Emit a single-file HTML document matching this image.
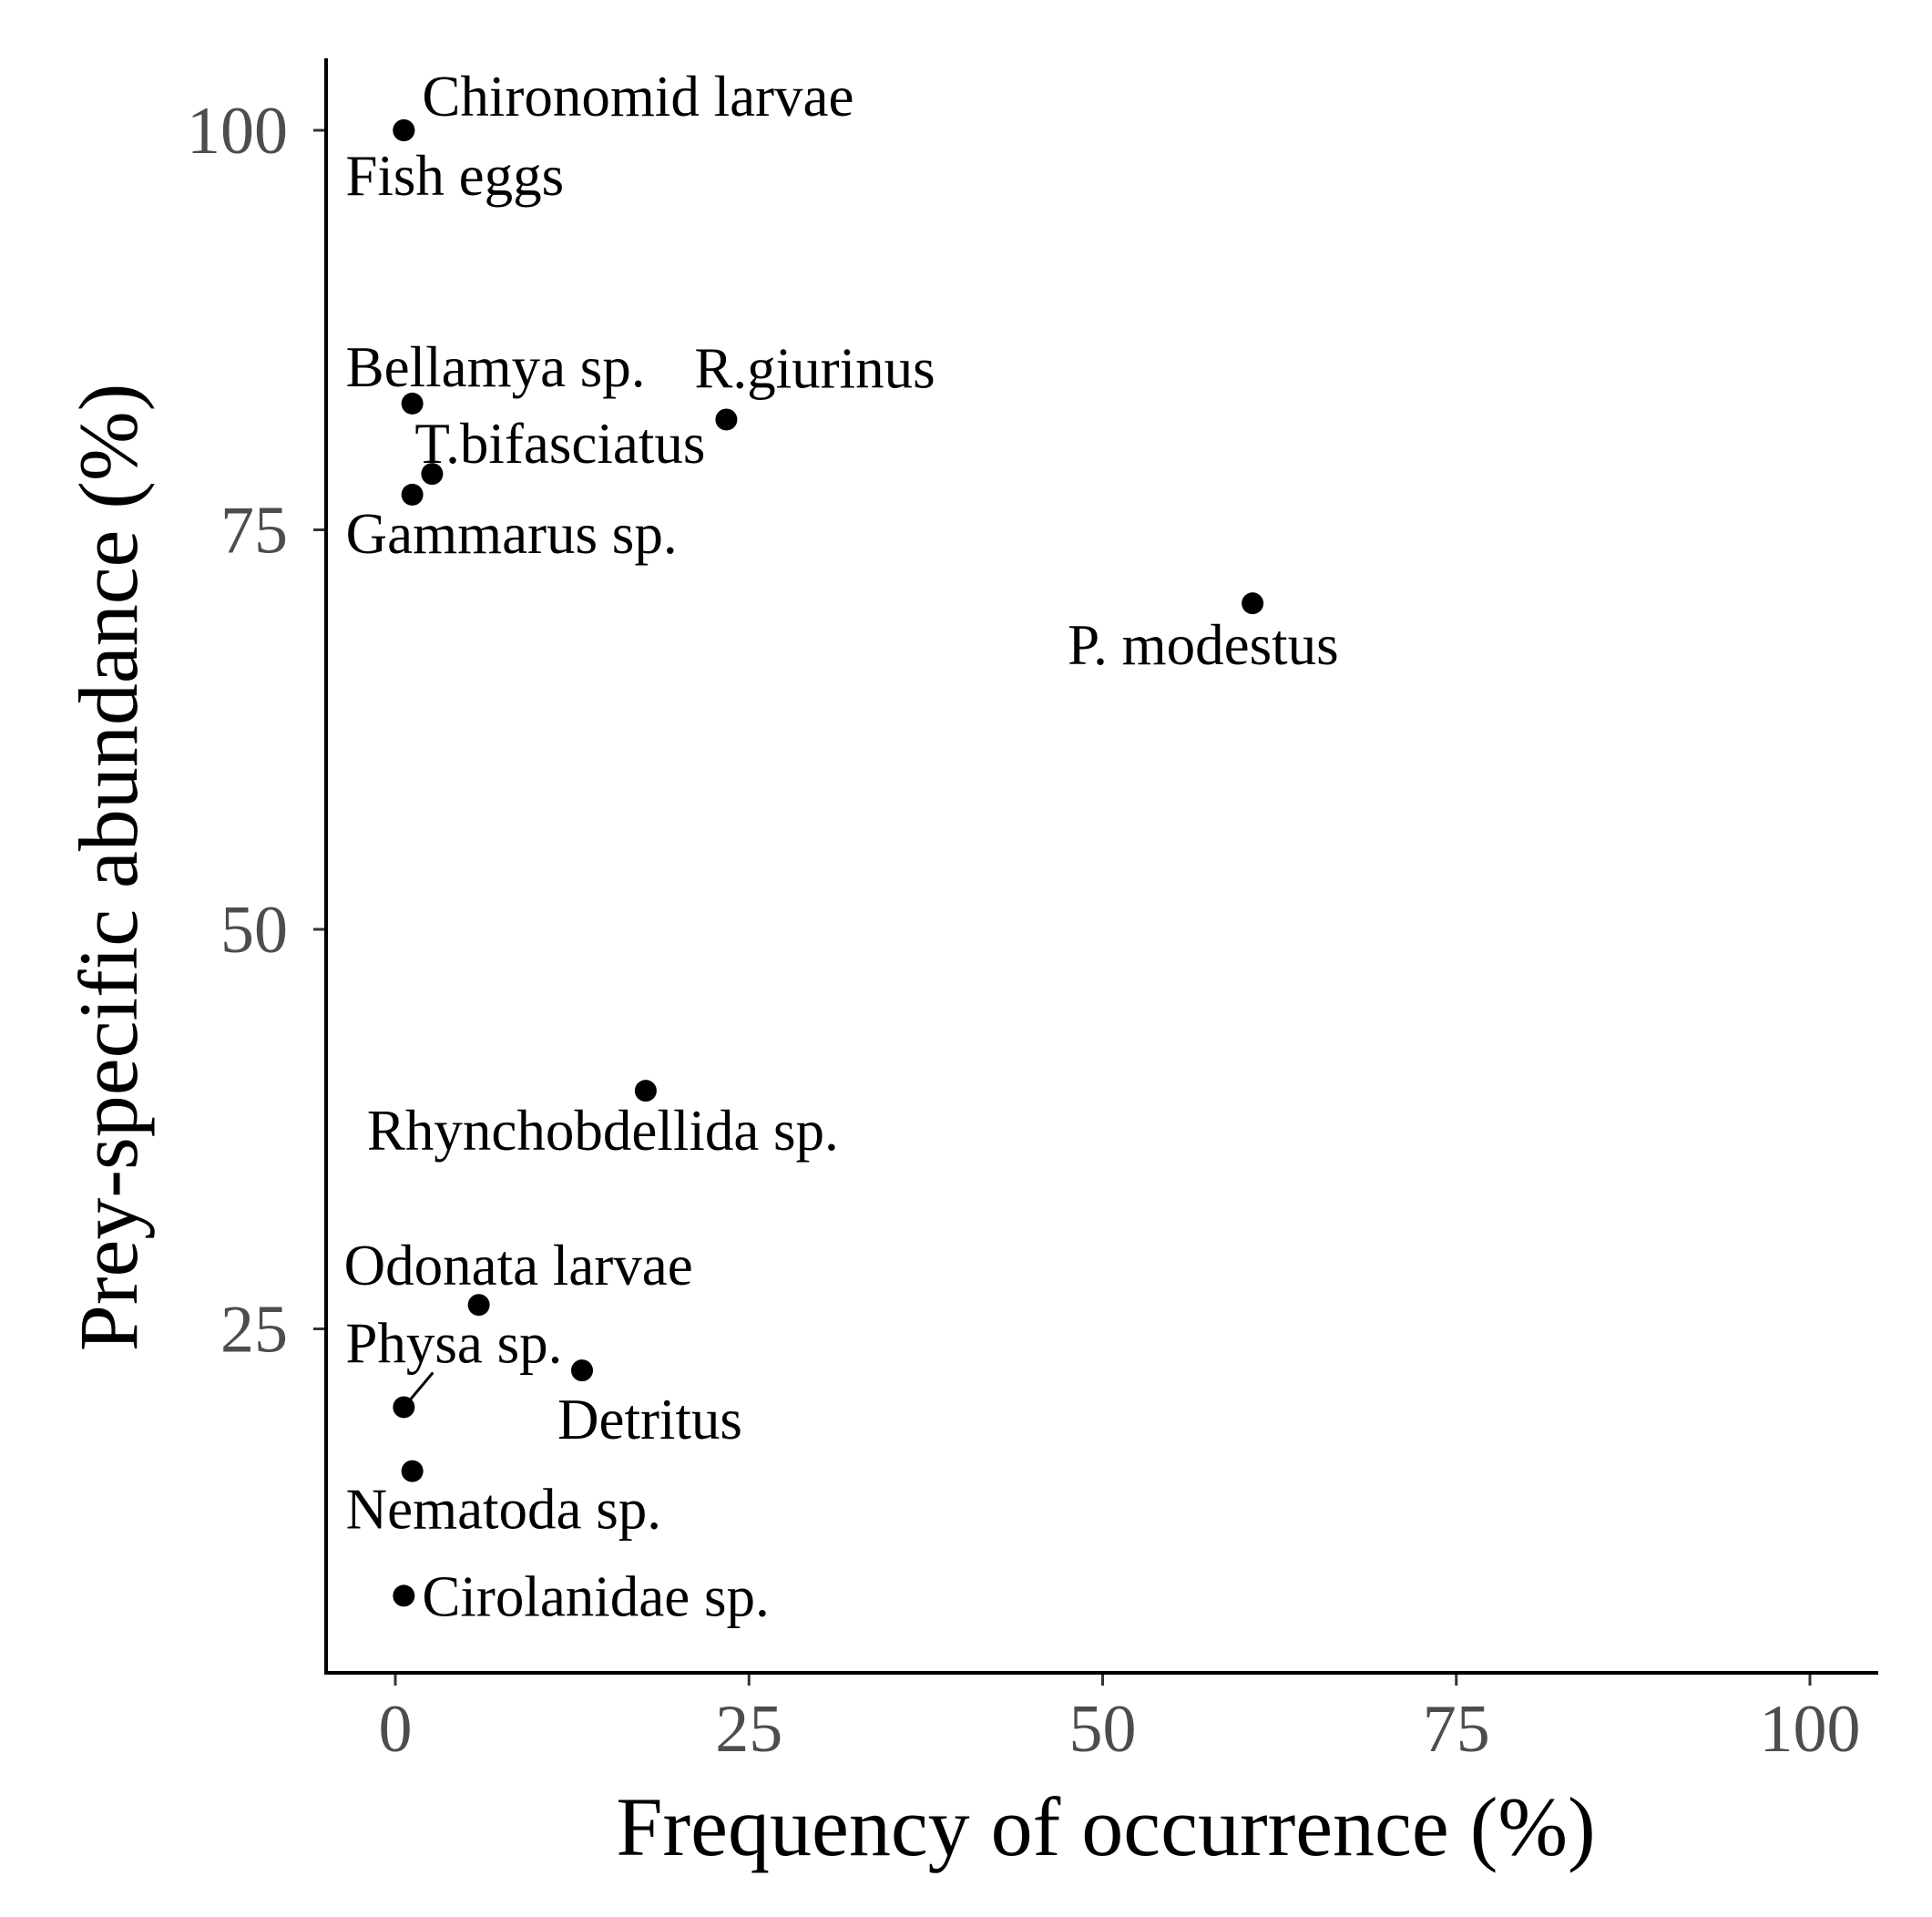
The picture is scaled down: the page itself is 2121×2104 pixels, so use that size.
<!DOCTYPE html>
<html><head><meta charset="utf-8"><style>
html,body{margin:0;padding:0;background:#fff;}
svg{display:block;font-family:"Liberation Serif",serif;}
</style></head><body>
<svg id="chart" width="2121" height="2104" viewBox="0 0 2121 2104"></svg>
<script>
const names=["Chironomid larvae","Fish eggs","Bellamya sp.","R.giurinus","T.bifasciatus","Gammarus sp.","P. modestus","Rhynchobdellida sp.","Odonata larvae","Detritus","Physa sp.","Nematoda sp.","Cirolanidae sp."];
const freq=[0.6,0.6,1.2,23.4,2.6,1.2,60.6,17.7,5.9,13.2,0.6,1.2,0.6];
const abund=[100,100,82.9,81.9,78.5,77.2,70.4,39.9,26.5,22.4,20.1,16.1,8.3];
const xTicks=[0,25,50,75,100];
const yTicks=[25,50,75,100];
// label offsets (layout, px from point)
const ldx=[20,-64,-73,-35,-19,-73,-203,-306,-148,-27,-64,-73,20];
const ldy=[-16,71,-19,-35,-12,64,67,65,-22,75,-49,63,22];
const svg=document.getElementById('chart');
const NS='http://www.w3.org/2000/svg';
const X=v=>434+v*15.53;
const Y=v=>143+(100-v)*17.54;
function mk(t,a){const e=document.createElementNS(NS,t);for(const k in a)e.setAttribute(k,a[k]);svg.appendChild(e);return e;}
let e;
e=mk('line',{x1:358,y1:64,x2:358,y2:1838,stroke:'#000','stroke-width':4});


e=mk('line',{x1:356,y1:1836,x2:2062,y2:1836,stroke:'#000','stroke-width':4});


xTicks.forEach(t=>{
 e=mk('line',{x1:X(t),y1:1838,x2:X(t),y2:1850,stroke:'#333','stroke-width':3});
 
 
 e=mk('text',{x:X(t),y:1922,'text-anchor':'middle','font-size':74,fill:'#4d4d4d'});e.textContent=t;
 
 
});
yTicks.forEach(t=>{
 e=mk('line',{x1:344,y1:Y(t),x2:356,y2:Y(t),stroke:'#333','stroke-width':3});
 
 
 e=mk('text',{x:316,y:Y(t)+25,'text-anchor':'end','font-size':74,fill:'#4d4d4d'});e.textContent=t;
 
 
});
// Physa connector segment
e=mk('line',{x1:X(freq[10])+6,y1:Y(abund[10])-7,x2:X(freq[10])+32,y2:Y(abund[10])-38,stroke:'#000','stroke-width':3});


names.forEach((n,i)=>{
 e=mk('circle',{cx:X(freq[i]),cy:Y(abund[i]),r:12,fill:'#000'});
 
 
 e=mk('text',{x:X(freq[i])+ldx[i],y:Y(abund[i])+ldy[i],'font-size':63,fill:'#000'});e.textContent=n;
 
 
});
e=mk('text',{x:1214,y:2036,'text-anchor':'middle','font-size':92,fill:'#000'});e.textContent='Frequency of occurrence (%)';


e=mk('text',{x:0,y:0,'text-anchor':'middle','font-size':92,fill:'#000',transform:'translate(150,952) rotate(-90)'});e.textContent='Prey-specific abundance (%)';


</script>
</body></html>
